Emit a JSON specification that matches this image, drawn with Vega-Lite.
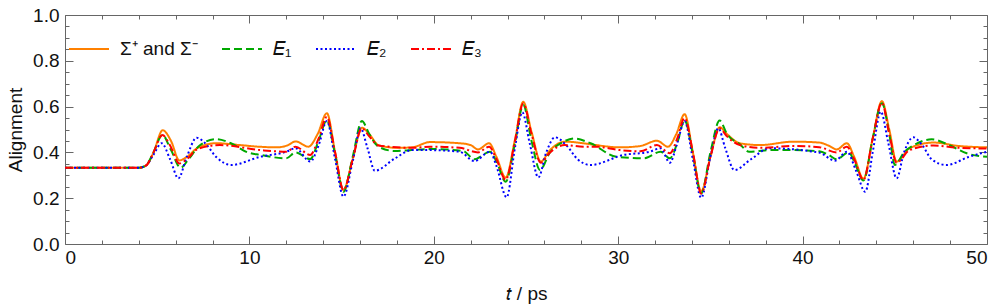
{
  "$schema": "https://vega.github.io/schema/vega-lite/v6.json",
  "width": 922,
  "height": 229,
  "autosize": {"type": "none"},
  "padding": {"left": 65, "top": 15, "right": 13, "bottom": 64},
  "config": {
    "font": "Liberation Sans",
    "view": {"stroke": "#666666", "strokeWidth": 1},
    "axis": {"domain": false, "grid": false, "tickColor": "#666666", "labelColor": "#111111", "titleColor": "#111111", "labelFontSize": 19, "titleFontSize": 19, "titleFontWeight": "normal", "labelOverlap": false}
  },
  "data": {"values": [
    {"s":"S","t":0,"v":0.333},{"s":"S","t":4,"v":0.333},{"s":"S","t":4.4,"v":0.343},{"s":"S","t":4.8,"v":0.4},{"s":"S","t":5.3,"v":0.497},{"s":"S","t":5.75,"v":0.45},{"s":"S","t":6.2,"v":0.365},{"s":"S","t":6.6,"v":0.38},{"s":"S","t":7.2,"v":0.42},{"s":"S","t":8.2,"v":0.44},{"s":"S","t":9.5,"v":0.432},{"s":"S","t":10.5,"v":0.425},{"s":"S","t":11.5,"v":0.422},{"s":"S","t":12.1,"v":0.432},{"s":"S","t":12.5,"v":0.448},{"s":"S","t":13.2,"v":0.425},{"s":"S","t":13.7,"v":0.48},{"s":"S","t":14.2,"v":0.571},{"s":"S","t":14.65,"v":0.4},{"s":"S","t":15.1,"v":0.236},{"s":"S","t":15.6,"v":0.37},{"s":"S","t":16.1,"v":0.508},{"s":"S","t":16.5,"v":0.48},{"s":"S","t":17.0,"v":0.432},{"s":"S","t":18.0,"v":0.42},{"s":"S","t":18.8,"v":0.422},{"s":"S","t":19.8,"v":0.445},{"s":"S","t":21.4,"v":0.44},{"s":"S","t":22.0,"v":0.432},{"s":"S","t":22.4,"v":0.413},{"s":"S","t":23.0,"v":0.44},{"s":"S","t":23.4,"v":0.38},{"s":"S","t":23.9,"v":0.29},{"s":"S","t":24.4,"v":0.455},{"s":"S","t":24.85,"v":0.621},{"s":"S","t":25.3,"v":0.49},{"s":"S","t":25.8,"v":0.36},{"s":"S","t":26.3,"v":0.41},{"s":"S","t":27.1,"v":0.447},{"s":"S","t":28.1,"v":0.44},{"s":"S","t":28.8,"v":0.432},{"s":"S","t":30.1,"v":0.422},{"s":"S","t":31.2,"v":0.428},{"s":"S","t":32.1,"v":0.451},{"s":"S","t":32.7,"v":0.425},{"s":"S","t":33.15,"v":0.48},{"s":"S","t":33.6,"v":0.567},{"s":"S","t":34.05,"v":0.4},{"s":"S","t":34.5,"v":0.23},{"s":"S","t":35.0,"v":0.38},{"s":"S","t":35.5,"v":0.51},{"s":"S","t":35.9,"v":0.48},{"s":"S","t":36.6,"v":0.44},{"s":"S","t":37.7,"v":0.432},{"s":"S","t":39.5,"v":0.447},{"s":"S","t":40.9,"v":0.443},{"s":"S","t":41.4,"v":0.43},{"s":"S","t":41.85,"v":0.413},{"s":"S","t":42.4,"v":0.44},{"s":"S","t":42.8,"v":0.38},{"s":"S","t":43.3,"v":0.285},{"s":"S","t":43.8,"v":0.46},{"s":"S","t":44.3,"v":0.624},{"s":"S","t":44.7,"v":0.5},{"s":"S","t":45.1,"v":0.36},{"s":"S","t":45.8,"v":0.418},{"s":"S","t":47.1,"v":0.443},{"s":"S","t":48.5,"v":0.428},{"s":"S","t":50,"v":0.422},

    {"s":"E1","t":0,"v":0.333},{"s":"E1","t":4,"v":0.333},{"s":"E1","t":4.4,"v":0.343},{"s":"E1","t":4.8,"v":0.4},{"s":"E1","t":5.28,"v":0.476},{"s":"E1","t":5.75,"v":0.41},{"s":"E1","t":6.27,"v":0.333},{"s":"E1","t":6.7,"v":0.37},{"s":"E1","t":7.3,"v":0.43},{"s":"E1","t":8.2,"v":0.458},{"s":"E1","t":9.0,"v":0.44},{"s":"E1","t":9.9,"v":0.4},{"s":"E1","t":10.6,"v":0.389},{"s":"E1","t":12.0,"v":0.374},{"s":"E1","t":12.5,"v":0.4},{"s":"E1","t":13.3,"v":0.371},{"s":"E1","t":13.75,"v":0.45},{"s":"E1","t":14.2,"v":0.541},{"s":"E1","t":14.65,"v":0.39},{"s":"E1","t":15.1,"v":0.228},{"s":"E1","t":15.6,"v":0.38},{"s":"E1","t":16.1,"v":0.537},{"s":"E1","t":16.5,"v":0.48},{"s":"E1","t":17.0,"v":0.425},{"s":"E1","t":17.9,"v":0.406},{"s":"E1","t":18.8,"v":0.41},{"s":"E1","t":19.8,"v":0.415},{"s":"E1","t":21.6,"v":0.406},{"s":"E1","t":22.2,"v":0.37},{"s":"E1","t":23.05,"v":0.403},{"s":"E1","t":23.4,"v":0.36},{"s":"E1","t":23.9,"v":0.272},{"s":"E1","t":24.4,"v":0.44},{"s":"E1","t":24.85,"v":0.607},{"s":"E1","t":25.3,"v":0.45},{"s":"E1","t":25.76,"v":0.323},{"s":"E1","t":26.3,"v":0.4},{"s":"E1","t":27.0,"v":0.445},{"s":"E1","t":27.6,"v":0.461},{"s":"E1","t":28.5,"v":0.44},{"s":"E1","t":29.9,"v":0.381},{"s":"E1","t":31.4,"v":0.374},{"s":"E1","t":32.3,"v":0.403},{"s":"E1","t":32.8,"v":0.374},{"s":"E1","t":33.2,"v":0.44},{"s":"E1","t":33.6,"v":0.541},{"s":"E1","t":34.05,"v":0.39},{"s":"E1","t":34.5,"v":0.22},{"s":"E1","t":35.0,"v":0.4},{"s":"E1","t":35.5,"v":0.539},{"s":"E1","t":35.9,"v":0.48},{"s":"E1","t":36.6,"v":0.435},{"s":"E1","t":37.1,"v":0.403},{"s":"E1","t":38.2,"v":0.41},{"s":"E1","t":39.5,"v":0.41},{"s":"E1","t":40.9,"v":0.405},{"s":"E1","t":41.4,"v":0.39},{"s":"E1","t":41.85,"v":0.37},{"s":"E1","t":42.5,"v":0.4},{"s":"E1","t":42.8,"v":0.36},{"s":"E1","t":43.3,"v":0.277},{"s":"E1","t":43.8,"v":0.46},{"s":"E1","t":44.3,"v":0.615},{"s":"E1","t":44.7,"v":0.48},{"s":"E1","t":45.0,"v":0.345},{"s":"E1","t":45.5,"v":0.4},{"s":"E1","t":46.0,"v":0.43},{"s":"E1","t":47.0,"v":0.457},{"s":"E1","t":48.0,"v":0.43},{"s":"E1","t":48.9,"v":0.396},{"s":"E1","t":50,"v":0.381},

    {"s":"E2","t":0,"v":0.333},{"s":"E2","t":4,"v":0.333},{"s":"E2","t":4.4,"v":0.343},{"s":"E2","t":4.8,"v":0.39},{"s":"E2","t":5.24,"v":0.44},{"s":"E2","t":5.7,"v":0.37},{"s":"E2","t":6.15,"v":0.287},{"s":"E2","t":6.6,"v":0.38},{"s":"E2","t":7.14,"v":0.464},{"s":"E2","t":7.6,"v":0.44},{"s":"E2","t":8.2,"v":0.38},{"s":"E2","t":9.0,"v":0.345},{"s":"E2","t":10.6,"v":0.381},{"s":"E2","t":12.0,"v":0.403},{"s":"E2","t":12.5,"v":0.418},{"s":"E2","t":13.3,"v":0.36},{"s":"E2","t":13.75,"v":0.43},{"s":"E2","t":14.2,"v":0.537},{"s":"E2","t":14.65,"v":0.37},{"s":"E2","t":15.1,"v":0.207},{"s":"E2","t":15.6,"v":0.36},{"s":"E2","t":16.03,"v":0.505},{"s":"E2","t":16.4,"v":0.42},{"s":"E2","t":16.8,"v":0.32},{"s":"E2","t":17.9,"v":0.374},{"s":"E2","t":18.8,"v":0.41},{"s":"E2","t":19.8,"v":0.41},{"s":"E2","t":21.4,"v":0.403},{"s":"E2","t":22.2,"v":0.362},{"s":"E2","t":23.05,"v":0.403},{"s":"E2","t":23.4,"v":0.34},{"s":"E2","t":23.95,"v":0.204},{"s":"E2","t":24.4,"v":0.42},{"s":"E2","t":24.8,"v":0.575},{"s":"E2","t":25.2,"v":0.44},{"s":"E2","t":25.67,"v":0.291},{"s":"E2","t":26.1,"v":0.4},{"s":"E2","t":26.57,"v":0.466},{"s":"E2","t":27.2,"v":0.43},{"s":"E2","t":27.8,"v":0.37},{"s":"E2","t":28.5,"v":0.345},{"s":"E2","t":30.3,"v":0.389},{"s":"E2","t":31.7,"v":0.403},{"s":"E2","t":32.3,"v":0.418},{"s":"E2","t":32.8,"v":0.355},{"s":"E2","t":33.2,"v":0.44},{"s":"E2","t":33.6,"v":0.537},{"s":"E2","t":34.05,"v":0.37},{"s":"E2","t":34.5,"v":0.202},{"s":"E2","t":35.0,"v":0.38},{"s":"E2","t":35.43,"v":0.505},{"s":"E2","t":35.8,"v":0.42},{"s":"E2","t":36.3,"v":0.323},{"s":"E2","t":37.2,"v":0.37},{"s":"E2","t":38.2,"v":0.418},{"s":"E2","t":40.9,"v":0.399},{"s":"E2","t":41.76,"v":0.364},{"s":"E2","t":42.4,"v":0.403},{"s":"E2","t":42.9,"v":0.32},{"s":"E2","t":43.4,"v":0.228},{"s":"E2","t":43.8,"v":0.4},{"s":"E2","t":44.24,"v":0.578},{"s":"E2","t":44.65,"v":0.44},{"s":"E2","t":45.1,"v":0.287},{"s":"E2","t":45.5,"v":0.4},{"s":"E2","t":46.0,"v":0.466},{"s":"E2","t":46.5,"v":0.43},{"s":"E2","t":47.0,"v":0.37},{"s":"E2","t":47.8,"v":0.345},{"s":"E2","t":49.0,"v":0.38},{"s":"E2","t":50,"v":0.403},

    {"s":"E3","t":0,"v":0.333},{"s":"E3","t":4,"v":0.333},{"s":"E3","t":4.4,"v":0.343},{"s":"E3","t":4.8,"v":0.4},{"s":"E3","t":5.28,"v":0.476},{"s":"E3","t":5.7,"v":0.43},{"s":"E3","t":6.2,"v":0.352},{"s":"E3","t":6.6,"v":0.37},{"s":"E3","t":7.2,"v":0.415},{"s":"E3","t":8.4,"v":0.432},{"s":"E3","t":10.6,"v":0.41},{"s":"E3","t":12.0,"v":0.403},{"s":"E3","t":12.5,"v":0.425},{"s":"E3","t":13.3,"v":0.389},{"s":"E3","t":13.75,"v":0.46},{"s":"E3","t":14.2,"v":0.555},{"s":"E3","t":14.65,"v":0.4},{"s":"E3","t":15.1,"v":0.236},{"s":"E3","t":15.6,"v":0.37},{"s":"E3","t":16.1,"v":0.505},{"s":"E3","t":16.5,"v":0.47},{"s":"E3","t":17.0,"v":0.43},{"s":"E3","t":18.8,"v":0.42},{"s":"E3","t":19.8,"v":0.425},{"s":"E3","t":21.4,"v":0.42},{"s":"E3","t":22.4,"v":0.4},{"s":"E3","t":23.0,"v":0.425},{"s":"E3","t":23.4,"v":0.37},{"s":"E3","t":23.9,"v":0.28},{"s":"E3","t":24.4,"v":0.45},{"s":"E3","t":24.85,"v":0.614},{"s":"E3","t":25.3,"v":0.48},{"s":"E3","t":25.8,"v":0.355},{"s":"E3","t":26.3,"v":0.4},{"s":"E3","t":27.1,"v":0.432},{"s":"E3","t":28.1,"v":0.425},{"s":"E3","t":28.8,"v":0.425},{"s":"E3","t":30.1,"v":0.41},{"s":"E3","t":31.2,"v":0.405},{"s":"E3","t":32.1,"v":0.432},{"s":"E3","t":32.8,"v":0.396},{"s":"E3","t":33.2,"v":0.46},{"s":"E3","t":33.6,"v":0.55},{"s":"E3","t":34.05,"v":0.4},{"s":"E3","t":34.5,"v":0.22},{"s":"E3","t":35.0,"v":0.38},{"s":"E3","t":35.5,"v":0.505},{"s":"E3","t":35.9,"v":0.47},{"s":"E3","t":36.6,"v":0.432},{"s":"E3","t":37.7,"v":0.42},{"s":"E3","t":39.5,"v":0.428},{"s":"E3","t":40.9,"v":0.423},{"s":"E3","t":41.85,"v":0.4},{"s":"E3","t":42.4,"v":0.425},{"s":"E3","t":42.8,"v":0.37},{"s":"E3","t":43.3,"v":0.28},{"s":"E3","t":43.8,"v":0.46},{"s":"E3","t":44.3,"v":0.617},{"s":"E3","t":44.7,"v":0.48},{"s":"E3","t":45.1,"v":0.355},{"s":"E3","t":45.8,"v":0.41},{"s":"E3","t":47.1,"v":0.43},{"s":"E3","t":48.5,"v":0.42},{"s":"E3","t":50,"v":0.417}
  ]},
  "layer": [
    {
      "mark": {"type": "line", "interpolate": "monotone", "strokeWidth": 2},
      "encoding": {
        "x": {"field": "t", "type": "quantitative", "scale": {"domain": [0, 50], "nice": false, "zero": false},
          "axis": {"orient": "bottom", "title": "𝑡 / ps", "values": [0,2,4,6,8,10,12,14,16,18,20,22,24,26,28,30,32,34,36,38,40,42,44,46,48,50],
            "labelExpr": "datum.value % 10 === 0 ? datum.label : ''",
            "tickSize": {"condition": {"test": "datum.value % 10 === 0", "value": -8}, "value": -4},
            "labelPadding": 12, "titlePadding": 13}},
        "y": {"field": "v", "type": "quantitative", "scale": {"domain": [0, 1], "nice": false},
          "axis": {"orient": "left", "title": "Alignment", "values": [0,0.05,0.1,0.15,0.2,0.25,0.3,0.35,0.4,0.45,0.5,0.55,0.6,0.65,0.7,0.75,0.8,0.85,0.9,0.95,1],
            "labelExpr": "abs(datum.value*5 - round(datum.value*5)) < 0.000001 ? format(datum.value, '.1f') : ''",
            "tickSize": {"condition": {"test": "abs(datum.value*5 - round(datum.value*5)) < 0.000001", "value": -8}, "value": -4},
            "labelPadding": 14, "titlePadding": 7}},
        "color": {"field": "s", "type": "nominal",
          "scale": {"domain": ["S", "E1", "E2", "E3"], "range": ["#ff8000", "#00a800", "#0000ff", "#ff0000"]},
          "legend": {"orient": "none", "legendX": 3, "legendY": 13, "direction": "horizontal", "title": null,
            "symbolType": "stroke", "symbolSize": 1600, "symbolStrokeWidth": 2, "labelFontSize": 19, "labelColor": "#111111",
            "labelOffset": 10, "columnPadding": 20, "labelLimit": 0,
            "labelExpr": "datum.label === 'S' ? 'Σ⁺ and Σ⁻' : datum.label === 'E1' ? '𝐸₁' : datum.label === 'E2' ? '𝐸₂' : '𝐸₃'"}},
        "strokeDash": {"field": "s", "type": "nominal",
          "scale": {"domain": ["S", "E1", "E2", "E3"], "range": [[1, 0], [8, 4], [2, 2.5], [8, 3, 2, 3]]},
          "legend": {"orient": "none", "legendX": 3, "legendY": 13, "direction": "horizontal", "title": null,
            "symbolType": "stroke", "symbolSize": 1600, "symbolStrokeWidth": 2, "labelFontSize": 19, "labelColor": "#111111",
            "labelOffset": 10, "columnPadding": 20, "labelLimit": 0,
            "labelExpr": "datum.label === 'S' ? 'Σ⁺ and Σ⁻' : datum.label === 'E1' ? '𝐸₁' : datum.label === 'E2' ? '𝐸₂' : '𝐸₃'"}}
      }
    },
    {
      "mark": {"type": "point", "opacity": 0},
      "encoding": {
        "x": {"field": "t", "type": "quantitative",
          "axis": {"orient": "top", "title": null, "labels": false, "values": [0,2,4,6,8,10,12,14,16,18,20,22,24,26,28,30,32,34,36,38,40,42,44,46,48,50],
            "tickSize": {"condition": {"test": "datum.value % 10 === 0", "value": -8}, "value": -4}}},
        "y": {"field": "v", "type": "quantitative",
          "axis": {"orient": "right", "title": null, "labels": false, "values": [0,0.05,0.1,0.15,0.2,0.25,0.3,0.35,0.4,0.45,0.5,0.55,0.6,0.65,0.7,0.75,0.8,0.85,0.9,0.95,1],
            "tickSize": {"condition": {"test": "abs(datum.value*5 - round(datum.value*5)) < 0.000001", "value": -8}, "value": -4}}}
      }
    }
  ],
  "resolve": {"axis": {"x": "independent", "y": "independent"}}
}
